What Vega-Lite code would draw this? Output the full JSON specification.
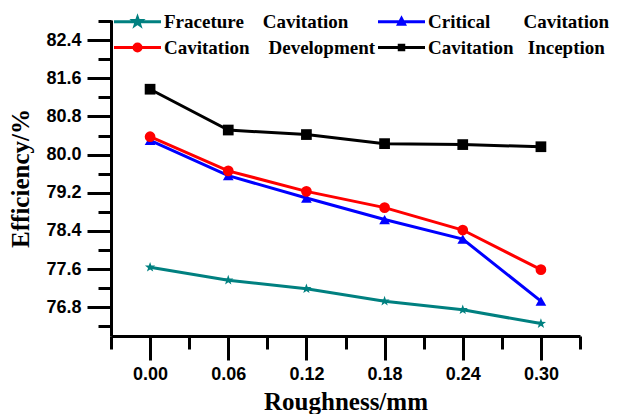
{
  "$schema": "https://vega.github.io/schema/vega-lite/v6.json",
  "width": 469,
  "height": 316,
  "padding": {"left": 8, "top": 12, "right": 0, "bottom": 0},
  "background": "white",
  "config": {"view": {"stroke": null}, "axis": {"grid": false}},
  "data": {
    "values": [
      {"series": "Fraceture Cavitation", "marker": "star", "roughness": 0.00, "efficiency": 77.64},
      {"series": "Fraceture Cavitation", "marker": "star", "roughness": 0.06, "efficiency": 77.37},
      {"series": "Fraceture Cavitation", "marker": "star", "roughness": 0.12, "efficiency": 77.19},
      {"series": "Fraceture Cavitation", "marker": "star", "roughness": 0.18, "efficiency": 76.93},
      {"series": "Fraceture Cavitation", "marker": "star", "roughness": 0.24, "efficiency": 76.75},
      {"series": "Fraceture Cavitation", "marker": "star", "roughness": 0.30, "efficiency": 76.46},
      {"series": "Critical Cavitation", "marker": "triangle", "roughness": 0.00, "efficiency": 80.30},
      {"series": "Critical Cavitation", "marker": "triangle", "roughness": 0.06, "efficiency": 79.56},
      {"series": "Critical Cavitation", "marker": "triangle", "roughness": 0.12, "efficiency": 79.09},
      {"series": "Critical Cavitation", "marker": "triangle", "roughness": 0.18, "efficiency": 78.64},
      {"series": "Critical Cavitation", "marker": "triangle", "roughness": 0.24, "efficiency": 78.23},
      {"series": "Critical Cavitation", "marker": "triangle", "roughness": 0.30, "efficiency": 76.93},
      {"series": "Cavitation Development", "marker": "circle", "roughness": 0.00, "efficiency": 80.375},
      {"series": "Cavitation Development", "marker": "circle", "roughness": 0.06, "efficiency": 79.66},
      {"series": "Cavitation Development", "marker": "circle", "roughness": 0.12, "efficiency": 79.23},
      {"series": "Cavitation Development", "marker": "circle", "roughness": 0.18, "efficiency": 78.89},
      {"series": "Cavitation Development", "marker": "circle", "roughness": 0.24, "efficiency": 78.42},
      {"series": "Cavitation Development", "marker": "circle", "roughness": 0.30, "efficiency": 77.59},
      {"series": "Cavitation Inception", "marker": "square", "roughness": 0.00, "efficiency": 81.37},
      {"series": "Cavitation Inception", "marker": "square", "roughness": 0.06, "efficiency": 80.515},
      {"series": "Cavitation Inception", "marker": "square", "roughness": 0.12, "efficiency": 80.42},
      {"series": "Cavitation Inception", "marker": "square", "roughness": 0.18, "efficiency": 80.23},
      {"series": "Cavitation Inception", "marker": "square", "roughness": 0.24, "efficiency": 80.21},
      {"series": "Cavitation Inception", "marker": "square", "roughness": 0.30, "efficiency": 80.165}
    ]
  },
  "layer": [
    {
      "mark": {"type": "line", "strokeWidth": 3},
      "encoding": {
        "x": {
          "field": "roughness", "type": "quantitative",
          "scale": {"domain": [-0.03, 0.33], "nice": false, "zero": false},
          "axis": {
            "values": [0, 0.06, 0.12, 0.18, 0.24, 0.30], "format": ".2f",
            "tickSize": 24, "tickWidth": 3, "tickColor": "black",
            "domainWidth": 3, "domainColor": "black",
            "labelFont": "Liberation Sans", "labelFontSize": 18, "labelFontWeight": "bold", "labelColor": "black", "labelPadding": 5,
            "title": "Roughness/mm", "titleFont": "Liberation Serif", "titleFontSize": 25, "titleFontWeight": "bold", "titleColor": "black", "titlePadding": 6
          }
        },
        "y": {
          "field": "efficiency", "type": "quantitative",
          "scale": {"domain": [76.2, 82.82], "nice": false, "zero": false},
          "axis": {
            "values": [76.8, 77.6, 78.4, 79.2, 80.0, 80.8, 81.6, 82.4], "format": ".1f",
            "tickSize": 24, "tickWidth": 3, "tickColor": "black",
            "domainWidth": 3, "domainColor": "black",
            "labelFont": "Liberation Sans", "labelFontSize": 18, "labelFontWeight": "bold", "labelColor": "black", "labelPadding": 6,
            "title": "Efficiency/%", "titleFont": "Liberation Serif", "titleFontSize": 25, "titleFontWeight": "bold", "titleColor": "black", "titlePadding": 12
          }
        },
        "color": {
          "field": "series", "type": "nominal",
          "scale": {"domain": ["Fraceture Cavitation", "Critical Cavitation", "Cavitation Development", "Cavitation Inception"], "range": ["#008080", "#0000FF", "#FF0000", "#000000"]},
          "legend": {
            "orient": "none", "legendX": 17, "legendY": -8, "direction": "horizontal",
            "columns": 2, "title": null, "padding": 0,
            "columnPadding": -4, "rowPadding": 6,
            "labelFont": "Liberation Serif", "labelFontSize": 19, "labelFontWeight": "bold", "labelColor": "black",
            "labelLimit": 400, "labelOffset": 17,
            "symbolSize": 100, "symbolStrokeWidth": 3,
            "labelExpr": "datum.label == 'Fraceture Cavitation' ? 'Fraceture\u00a0\u00a0\u00a0\u00a0Cavitation' : datum.label == 'Critical Cavitation' ? 'Critical\u00a0\u00a0\u00a0\u00a0\u00a0\u00a0\u00a0Cavitation' : datum.label == 'Cavitation Development' ? 'Cavitation\u00a0\u00a0\u00a0\u00a0Development' : 'Cavitation\u00a0\u00a0\u00a0Inception'",
            "encoding": {
              "symbols": {
                "shape": {"value": {"expr": "datum.value == 'Fraceture Cavitation' ? 'M-4.7,0H4.7M0,-0.8L0.19,-0.26L0.76,-0.25L0.3,0.1L0.47,0.65L0,0.32L-0.47,0.65L-0.3,0.1L-0.76,-0.25L-0.19,-0.26Z' : datum.value == 'Critical Cavitation' ? 'M-4.7,0H4.7M0,-0.65L0.6,0.5L-0.6,0.5Z' : datum.value == 'Cavitation Development' ? 'M-4.7,0H4.7M-0.7,0A0.7,0.7,0,1,0,0.7,0A0.7,0.7,0,1,0,-0.7,0Z' : 'M-4.7,0H4.7M-0.45,-0.45H0.45V0.45H-0.45Z'"}},
                "stroke": {"value": {"expr": "scale('color', datum.value)"}},
                "fill": {"value": {"expr": "scale('color', datum.value)"}},
                "strokeWidth": {"value": 3},
                "opacity": {"value": 1}
              }
            }
          }
        }
      }
    },
    {
      "mark": {"type": "point", "filled": true, "size": 115, "opacity": 1},
      "encoding": {
        "x": {
          "field": "roughness", "type": "quantitative",
          "axis": {
            "values": [-0.03, 0.03, 0.09, 0.15, 0.21, 0.27, 0.33],
            "tickSize": 13, "tickWidth": 3, "tickColor": "black",
            "domain": false, "labels": false, "title": null, "orient": "bottom"
          }
        },
        "y": {
          "field": "efficiency", "type": "quantitative",
          "axis": {
            "values": [76.4, 77.2, 78.0, 78.8, 79.6, 80.4, 81.2, 82.0, 82.8],
            "tickSize": 13, "tickWidth": 3, "tickColor": "black",
            "domain": false, "labels": false, "title": null, "orient": "left"
          }
        },
        "color": {"field": "series", "type": "nominal"},
        "shape": {
          "field": "marker", "type": "nominal",
          "scale": {"domain": ["star", "triangle", "circle", "square"], "range": ["M0,-1L0.235,-0.324L0.951,-0.309L0.38,0.124L0.588,0.809L0,0.4L-0.588,0.809L-0.38,0.124L-0.951,-0.309L-0.235,-0.324Z", "triangle-up", "circle", "square"]},
          "legend": null
        }
      }
    }
  ],
  "resolve": {"axis": {"x": "independent", "y": "independent"}}
}
